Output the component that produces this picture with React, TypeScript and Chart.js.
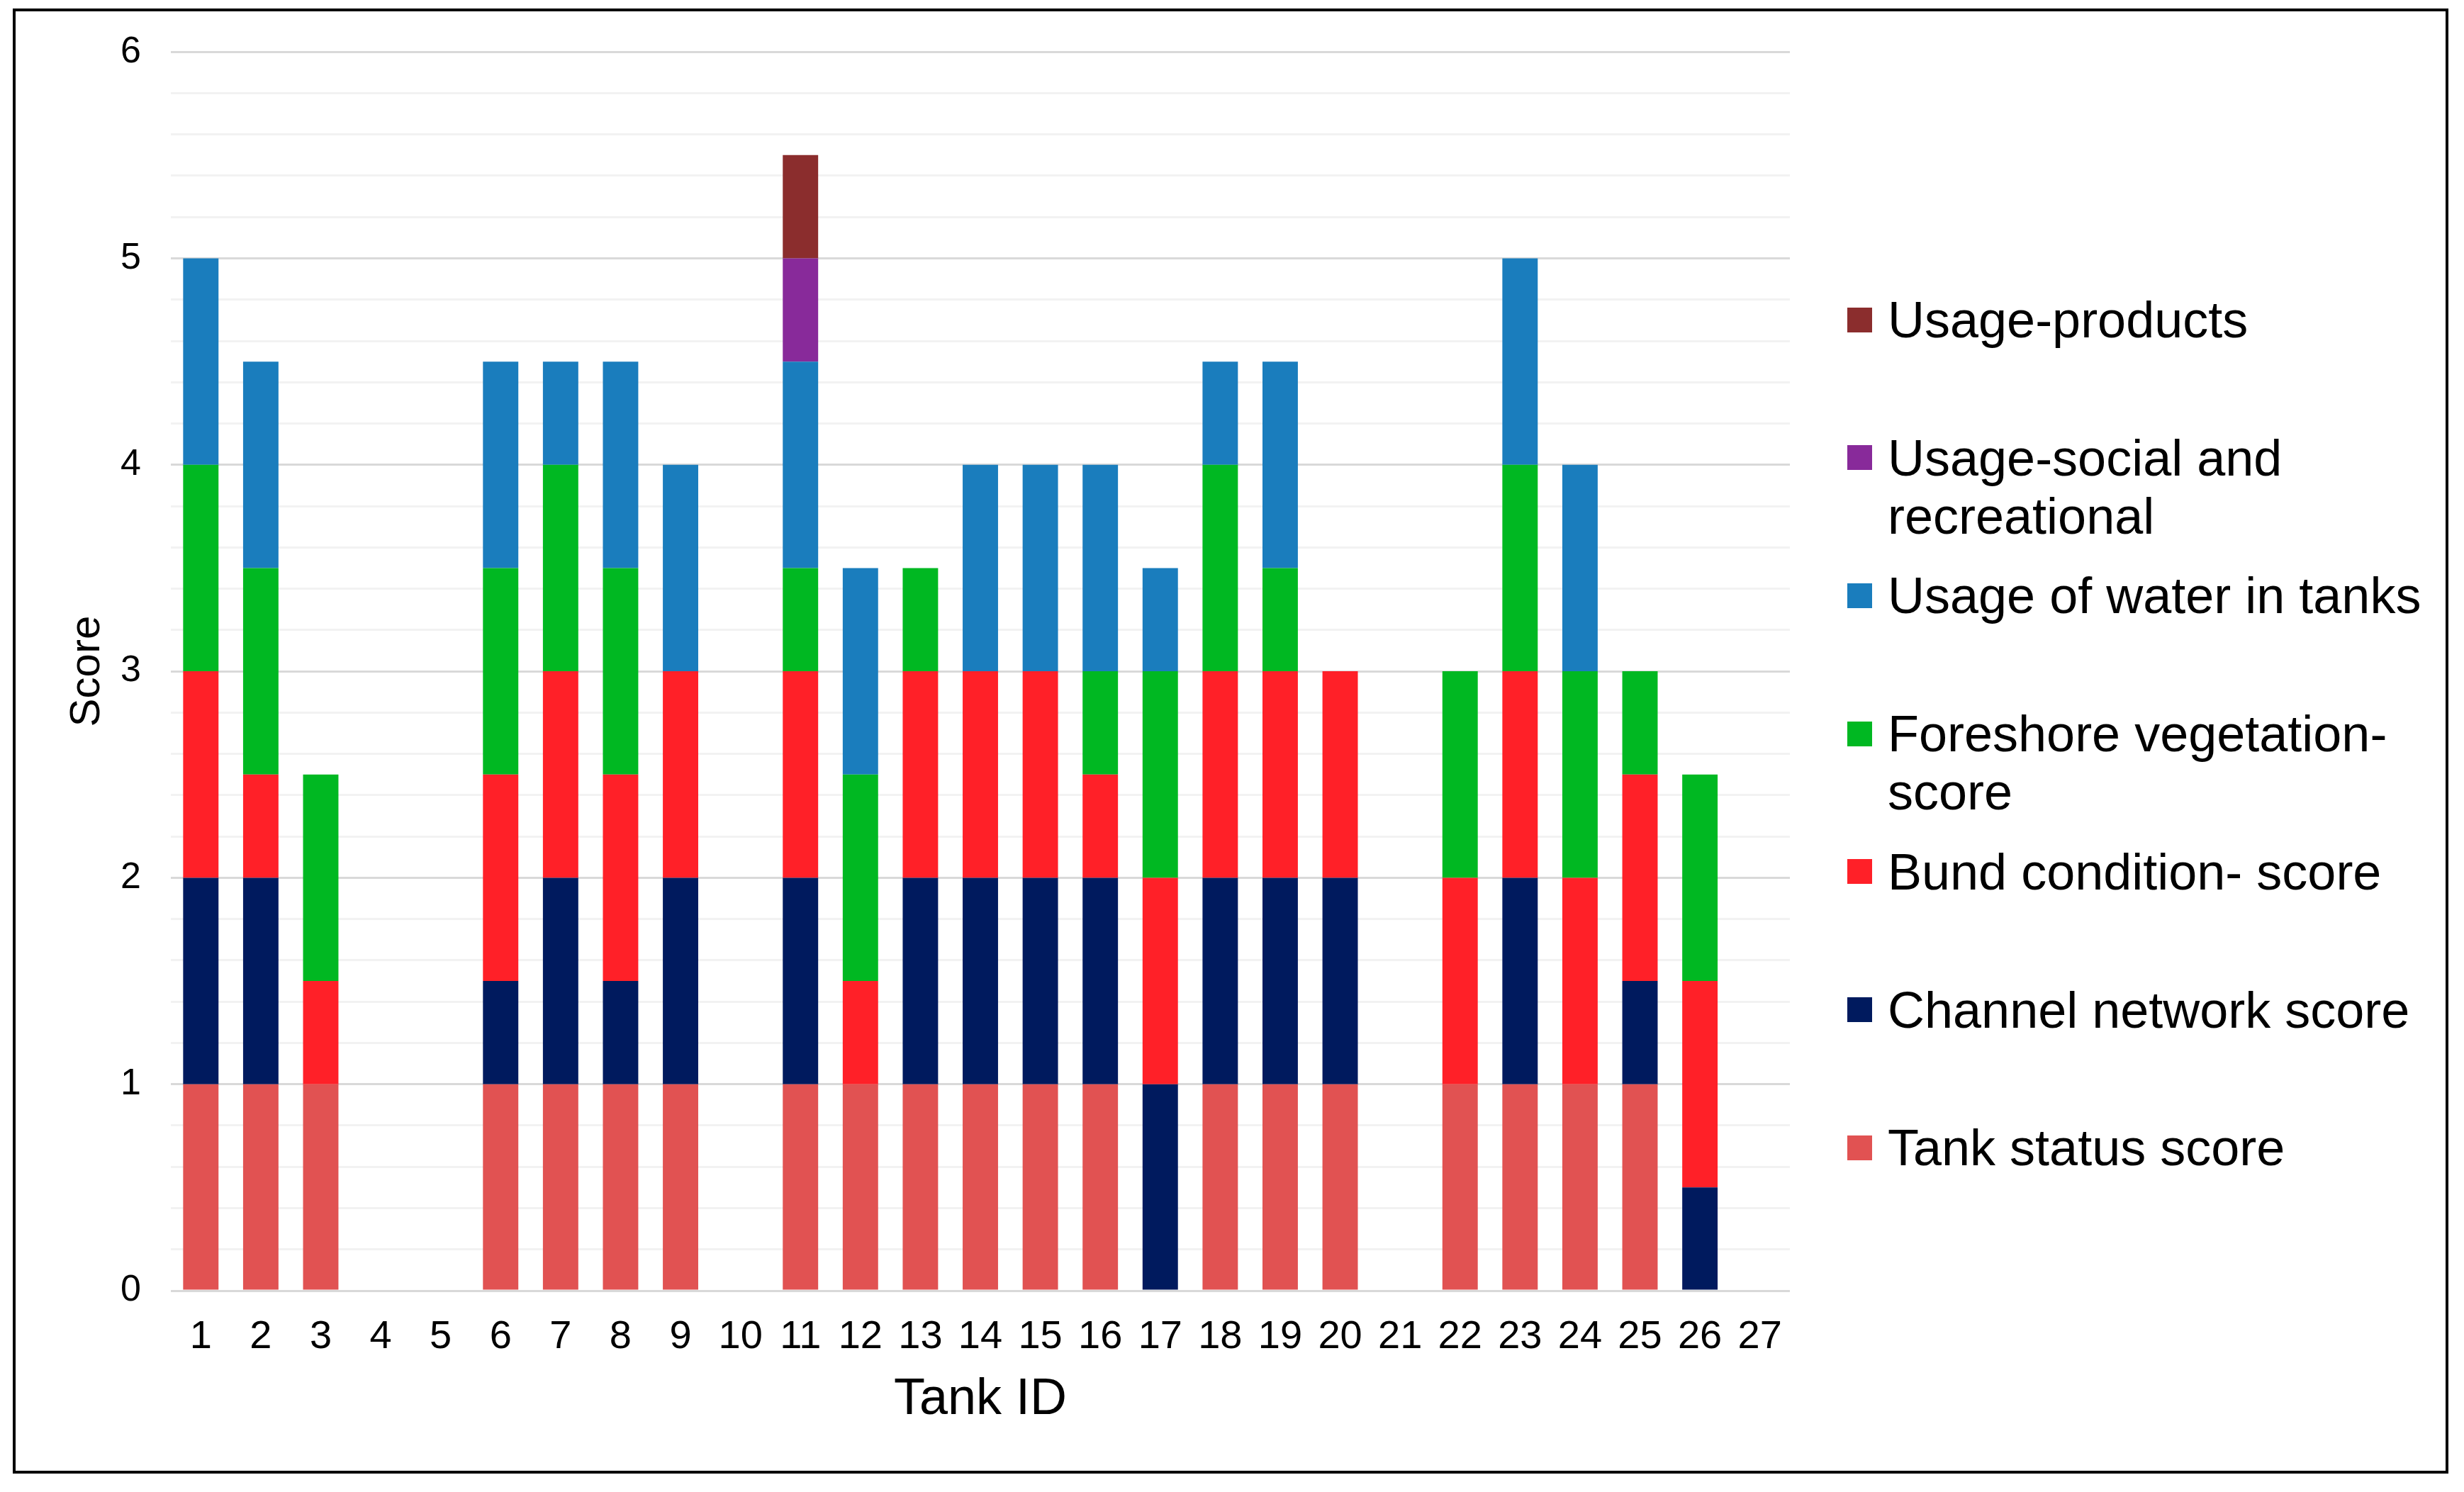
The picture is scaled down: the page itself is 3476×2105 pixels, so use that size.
import React, { useEffect, useRef } from "react";
import { Chart, registerables } from "chart.js";

Chart.register(...registerables);

const tankIds = ["1","2","3","4","5","6","7","8","9","10","11","12","13","14","15","16","17","18","19","20","21","22","23","24","25","26","27"];

const tankStatus   = [1, 1, 1, 0, 0, 1, 1, 1, 1, 0, 1, 1, 1, 1, 1, 1, 0, 1, 1, 1, 0, 1, 1, 1, 1, 0, 0];
const channelNet   = [1, 1, 0, 0, 0, 0.5, 1, 0.5, 1, 0, 1, 0, 1, 1, 1, 1, 1, 1, 1, 1, 0, 0, 1, 0, 0.5, 0.5, 0];
const bundCond     = [1, 0.5, 0.5, 0, 0, 1, 1, 1, 1, 0, 1, 0.5, 1, 1, 1, 0.5, 1, 1, 1, 1, 0, 1, 1, 1, 1, 1, 0];
const foreshoreVeg = [1, 1, 1, 0, 0, 1, 1, 1, 0, 0, 0.5, 1, 0.5, 0, 0, 0.5, 1, 1, 0.5, 0, 0, 1, 1, 1, 0.5, 1, 0];
const waterUsage   = [1, 1, 0, 0, 0, 1, 0.5, 1, 1, 0, 1, 1, 0, 1, 1, 1, 0.5, 0.5, 1, 0, 0, 0, 1, 1, 0, 0, 0];
const socialUsage  = [0, 0, 0, 0, 0, 0, 0, 0, 0, 0, 0.5, 0, 0, 0, 0, 0, 0, 0, 0, 0, 0, 0, 0, 0, 0, 0, 0];
const productUsage = [0, 0, 0, 0, 0, 0, 0, 0, 0, 0, 0.5, 0, 0, 0, 0, 0, 0, 0, 0, 0, 0, 0, 0, 0, 0, 0, 0];

const seriesLabels = [
  "Tank status score",
  "Channel network score",
  "Bund condition- score",
  "Foreshore vegetation- score",
  "Usage of water in tanks",
  "Usage-social and recreational",
  "Usage-products",
];
const seriesColors = ["#E15252", "#001A5E", "#FF2028", "#00B822", "#1A7DBD", "#882A9A", "#8B2D2D"];
const seriesData = [tankStatus, channelNet, bundCond, foreshoreVeg, waterUsage, socialUsage, productUsage];

const FONT = "'Liberation Sans', Arial, sans-serif";

export default function App() {
  const canvasRef = useRef<HTMLCanvasElement | null>(null);

  useEffect(() => {
    const canvas = canvasRef.current;
    if (!canvas) return;
    const chart = new Chart(canvas, {
      type: "bar",
      data: {
        labels: tankIds,
        datasets: seriesData.map((d, i) => ({
          label: seriesLabels[i],
          data: d,
          backgroundColor: seriesColors[i],
          borderWidth: 0,
          categoryPercentage: 1,
          barPercentage: 0.59,
        })),
      },
      options: {
        animation: false,
        responsive: false,
        devicePixelRatio: 1,
        layout: { padding: { left: 0, top: 71, right: 951, bottom: 0 } },
        plugins: { legend: { display: false }, tooltip: { enabled: false } },
        scales: {
          x: {
            stacked: true,
            grid: { display: false, drawTicks: false },
            border: { display: false },
            ticks: { color: "#000", font: { family: FONT, size: 56 }, padding: 32, maxRotation: 0, autoSkip: false },
            title: { display: true, text: "Tank ID", color: "#000", font: { family: FONT, size: 72 }, padding: { top: 0, bottom: 87 } },
            afterFit: (s: any) => { s.height = 284; },
          },
          y: {
            stacked: true,
            min: 0,
            max: 6,
            grid: {
              drawTicks: false,
              lineWidth: 3,
              color: (ctx: any) => {
                const v = ctx.tick ? ctx.tick.value : 0;
                return Math.abs(v - Math.round(v)) < 1e-6 ? "#D9D9D9" : "#F2F2F2";
              },
            },
            border: { display: false },
            ticks: {
              stepSize: 0.2,
              autoSkip: false,
              color: "#000",
              padding: 42,
              font: { family: FONT, size: 52 },
              callback: (v: any) => {
                const n = Number(v);
                return Math.abs(n - Math.round(n)) < 1e-6 ? String(Math.round(n)) : "";
              },
            },
            title: { display: true, text: "Score", color: "#000", font: { family: FONT, size: 60 }, padding: { top: 87, bottom: 0 } },
            afterFit: (s: any) => { s.width = 241; },
          },
        },
      },
    });
    return () => chart.destroy();
  }, []);

  const legendOrder = [6, 5, 4, 3, 2, 1, 0];
  const firstTop = 451;
  const pitch = 194.7;
  const lineH = 82;

  return (
    <div style={{ position: "absolute", left: 0, top: 0, width: 3476, height: 2105, overflow: "hidden", background: "#fff" }}>
      <canvas ref={canvasRef} width={3476} height={2105} style={{ position: "absolute", left: 0, top: 0, width: 3476, height: 2105 }} />
      <div style={{ position: "absolute", left: 18, top: 12, width: 3436, height: 2067, border: "4px solid #000", boxSizing: "border-box", pointerEvents: "none" }} />
      {legendOrder.map((idx, k) => (
        <div
          key={idx}
          style={{
            position: "absolute",
            left: 2606,
            top: firstTop + k * pitch - lineH / 2,
            display: "flex",
            alignItems: "flex-start",
            fontFamily: FONT,
            fontSize: 72,
            lineHeight: `${lineH}px`,
            color: "#000",
          }}
        >
          <div style={{ width: 35, height: 35, marginTop: (lineH - 35) / 2, background: seriesColors[idx], flex: "none" }} />
          <div style={{ marginLeft: 22, width: 770 }}>{seriesLabels[idx]}</div>
        </div>
      ))}
    </div>
  );
}
